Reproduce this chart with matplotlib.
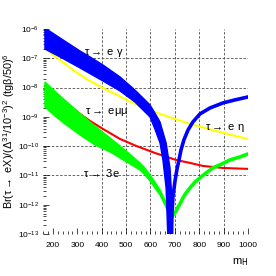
import matplotlib
matplotlib.use("Agg")
import matplotlib.pyplot as plt
from matplotlib.ticker import MultipleLocator, LogLocator, NullFormatter

plt.rcParams['font.family'] = ['Liberation Sans', 'DejaVu Sans']
plt.rcParams['mathtext.default'] = 'regular'

# tau -> e gamma (blue band, left branch) and its narrow right branch
blue_hi_m  = [167, 229, 311, 352, 405, 475, 536, 598, 618, 639, 664, 680, 688, 692]
blue_hi_br = [1.08e-6, 4.93e-7, 1.77e-7, 1.11e-7, 5.90e-8, 2.30e-8, 8.28e-9,
              2.55e-9, 1.36e-9, 6.70e-10, 1.29e-10, 1.80e-11, 1.46e-12, 5e-14]
blue_lo_m  = [167, 229, 311, 405, 475, 536, 598, 618, 639, 651, 664, 672]
blue_lo_br = [2.07e-7, 1.11e-7, 4.67e-8, 1.68e-8, 7.66e-9, 3.23e-9, 9.93e-10,
              3.86e-10, 1.29e-10, 3.38e-11, 3.74e-12, 5e-14]
blue_r_m   = [684, 688, 692, 700, 708, 717, 725, 737, 754, 774, 803, 844, 897,
              946, 1000]
blue_r_br  = [5e-14, 4.49e-13, 1.85e-12, 6.00e-12, 1.54e-11, 3.38e-11, 7.41e-11,
              1.63e-10, 3.57e-10, 6.70e-10, 1.26e-9, 2.01e-9, 2.98e-9, 3.78e-9,
              4.78e-9]

# yellow and red lines
yel_m  = [167, 196, 229, 282, 344, 405, 454, 504, 561, 639, 700, 762, 824, 885,
          947, 1000]
yel_br = [2.25e-7, 1.40e-7, 8.75e-8, 3.99e-8, 1.82e-8, 9.69e-9, 6.05e-9, 3.78e-9,
          2.18e-9, 1.26e-9, 8.47e-10, 5.73e-10, 4.18e-10, 3.05e-10, 2.23e-10,
          1.76e-10]
red_m  = [167, 208, 237, 270, 311, 352, 405, 475, 541, 618, 705, 762, 815, 897, 1000]
red_br = [1.14e-8, 6.55e-9, 4.08e-9, 2.35e-9, 1.26e-9, 7.24e-10, 3.86e-10,
          1.76e-10, 1.02e-10, 5.86e-11, 3.38e-11, 2.67e-11, 2.11e-11, 1.80e-11,
          1.67e-11]

# tau -> 3e (green band + right branch)
grn_hi_m  = [167, 229, 290, 352, 434, 495, 557, 577, 598, 618, 639, 655, 672, 688]
grn_hi_br = [1.55e-8, 5.17e-9, 1.86e-9, 6.70e-10, 1.90e-10, 7.41e-11, 2.67e-11,
             1.80e-11, 1.04e-11, 6.00e-12, 3.20e-12, 1.71e-12, 8.41e-13, 4.15e-13]
grn_lo_m  = [167, 208, 249, 311, 372, 434, 495, 557, 577, 598, 618, 639, 655, 672, 688]
grn_lo_br = [2.18e-9, 1.07e-9, 5.73e-10, 2.41e-10, 1.10e-10, 6.34e-11, 3.13e-11,
             1.54e-11, 1.04e-11, 6.49e-12, 3.74e-12, 2.16e-12, 1.15e-12, 5.68e-13,
             3.28e-13]
grn_r_m   = [688, 696, 705, 713, 721, 733, 746, 762, 783, 803, 828, 856, 893,
             926, 967, 1000]
grn_r_br  = [3.84e-13, 4.85e-13, 6.14e-13, 8.41e-13, 1.06e-12, 1.71e-12, 2.53e-12,
             3.74e-12, 6.00e-12, 8.22e-12, 1.22e-11, 1.80e-11, 2.47e-11, 3.38e-11,
             4.28e-11, 5.42e-11]

vgrid = [400, 500, 600, 700, 800, 900]
hgrid = [1e-7, 1e-8, 1e-10, 1e-11]

labels = [
    (0.298, 0.883, r"$\tau\rightarrow$ e $\gamma$"),
    (0.310, 0.595, r"$\tau\rightarrow$ e$\mu\mu$"),
    (0.885, 0.517, r"$\tau\rightarrow$ e $\eta$"),
    (0.283, 0.298, r"$\tau\rightarrow$ 3e"),
]

fig = plt.figure(figsize=(2.76, 2.76), dpi=100)
ax = fig.add_axes([43/276, 1 - 234/276, 205/276, 205/276])
ax.set_yscale("log")
ax.set_xlim(159, 1000)
ax.set_ylim(1e-13, 1e-6)

for v in vgrid:
    ax.axvline(v, color="0.3", lw=0.6, dashes=(3, 2), zorder=1)
for h in hgrid:
    ax.axhline(h, color="0.3", lw=0.6, dashes=(3, 2), zorder=1)

ax.plot(red_m, red_br, color="#ff0000", lw=1.5, zorder=2)
ax.fill(grn_hi_m + grn_lo_m[::-1], grn_hi_br + grn_lo_br[::-1],
        color="#00ff00", lw=1.0, zorder=3)
ax.plot(grn_r_m, grn_r_br, color="#00ff00", lw=2.6, zorder=3, solid_capstyle="round")
ax.plot(yel_m, yel_br, color="#ffff00", lw=1.5, zorder=4)
ax.fill(blue_hi_m + blue_lo_m[::-1], blue_hi_br + blue_lo_br[::-1],
        color="#0000ff", lw=1.0, zorder=5)
ax.plot(blue_r_m, blue_r_br, color="#0000ff", lw=2.6, zorder=5)

for x, y, s in labels:
    ax.text(x, y, s, transform=ax.transAxes, ha="center", va="center",
            fontsize=8, zorder=6)

for sp in ax.spines.values():
    sp.set_visible(False)

ax.xaxis.set_major_locator(MultipleLocator(100))
ax.xaxis.set_minor_locator(MultipleLocator(20))
ax.yaxis.set_major_locator(LogLocator(base=10, numticks=20))
ax.yaxis.set_minor_locator(LogLocator(base=10, subs=range(2, 10), numticks=20))
ax.yaxis.set_minor_formatter(NullFormatter())
ax.tick_params(which="both", direction="in", width=0.5, labelsize=6)
ax.tick_params(axis="x", pad=6)
ax.tick_params(axis="y", pad=3)
ax.tick_params(which="major", length=4)
ax.tick_params(which="minor", length=2)
ax.set_xticks([200, 300, 400, 500, 600, 700, 800, 900, 1000])

ax.set_ylabel(r"Br($\tau\rightarrow$ eX)/($\Delta^{31}$/10$^{-3}$)$^{2}$ (tg$\beta$/50)$^{6}$",
              fontsize=7.8)
ax.yaxis.set_label_coords(-0.125, 0.5)
ax.text(0.96, -0.137, r"m$_{\rm H}$", transform=ax.transAxes, ha="center",
        va="center", fontsize=8)

fig.savefig("out.png", dpi=100)
